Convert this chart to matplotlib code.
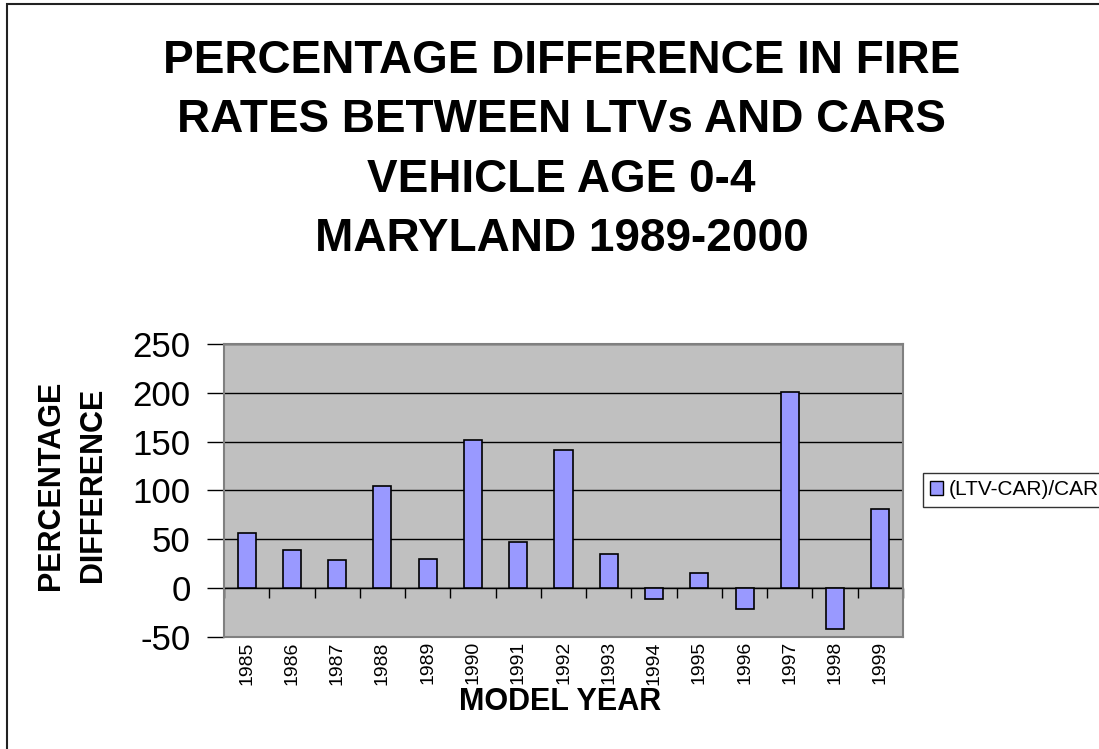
import matplotlib
matplotlib.use("Agg")
import matplotlib.pyplot as plt
from matplotlib.patches import Rectangle
import numpy as np

plt.rcParams['font.family'] = ['Liberation Sans', 'DejaVu Sans']

years = ["1985", "1986", "1987", "1988", "1989", "1990", "1991", "1992",
         "1993", "1994", "1995", "1996", "1997", "1998", "1999"]
pct_diff = [56, 39, 29, 105, 30, 152, 47, 141, 35, -11, 16, -21, 201, -42, 81]
yticks = [-50, 0, 50, 100, 150, 200, 250]
series_name = "(LTV-CAR)/CAR"
title = "PERCENTAGE DIFFERENCE IN FIRE\nRATES BETWEEN LTVs AND CARS\nVEHICLE AGE 0-4\nMARYLAND 1989-2000"

W, H = 1099, 749
fig = plt.figure(figsize=(W / 100, H / 100), dpi=100)
fig.patch.set_facecolor("white")

ax = fig.add_axes([224 / W, 1 - 637 / H, (903 - 224) / W, (637 - 344) / H])
ax.set_facecolor("#C0C0C0")
x = np.arange(len(years))
ax.bar(x, pct_diff, width=0.4, color="#9999FF", edgecolor="black", linewidth=1.2, zorder=3,
       label=series_name)
ax.set_xlim(-0.5, len(years) - 0.5)
ax.set_ylim(min(yticks), max(yticks))
ax.set_yticks(yticks)
ax.set_yticklabels([str(v) for v in yticks], fontsize=25)
ax.tick_params(axis="y", length=12, width=1, color="black", pad=12)
ax.yaxis.grid(True, color="black", linewidth=1)
ax.set_axisbelow(True)
for s in ax.spines.values():
    s.set_color("#808080")
    s.set_linewidth(1.5)

ax.set_xticks(x)
ax.set_xticklabels(years, rotation=90, fontsize=14)
ax.tick_params(axis="x", length=0, pad=3)

# zero line with category boundary ticks
sec = ax.secondary_xaxis(0, transform=ax.transData)
sec.set_xticks(np.arange(len(years) + 1) - 0.5)
sec.set_xticklabels([])
sec.tick_params(axis="x", length=7, width=1, color="black", direction="out")
sec.spines["bottom"].set_color("#808080")
sec.spines["bottom"].set_linewidth(1.5)

fig.text(561.5 / W, 1 - 150 / H, title, ha="center", va="center", fontsize=33,
         fontweight="bold", linespacing=1.455, multialignment="center")
fig.text(72 / W, 1 - 485 / H, "PERCENTAGE\nDIFFERENCE", rotation=90, ha="center", va="center",
         fontsize=22, fontweight="bold", linespacing=1.55, multialignment="center")
fig.text(560 / W, 1 - 702 / H, "MODEL YEAR", ha="center", va="center", fontsize=22,
         fontweight="bold")

handle = Rectangle((0, 0), 1, 1, facecolor="#9999FF", edgecolor="black", linewidth=1)
leg = fig.legend([handle], [series_name], loc="upper left",
                 bbox_to_anchor=(923 / W, 1 - 473 / H), bbox_transform=fig.transFigure,
                 fontsize=15, frameon=True, fancybox=False, edgecolor="black",
                 borderaxespad=0, handlelength=0.6, handleheight=0.6, handletextpad=0.3,
                 borderpad=0.35)
leg.get_frame().set_linewidth(1)

fig.patches.append(Rectangle((6.5 / W, -0.1), 1.2, 1 - 3.5 / H + 0.1, transform=fig.transFigure,
                             fill=False, edgecolor="#222222", linewidth=1.5))

fig.savefig("out.png", dpi=100)
